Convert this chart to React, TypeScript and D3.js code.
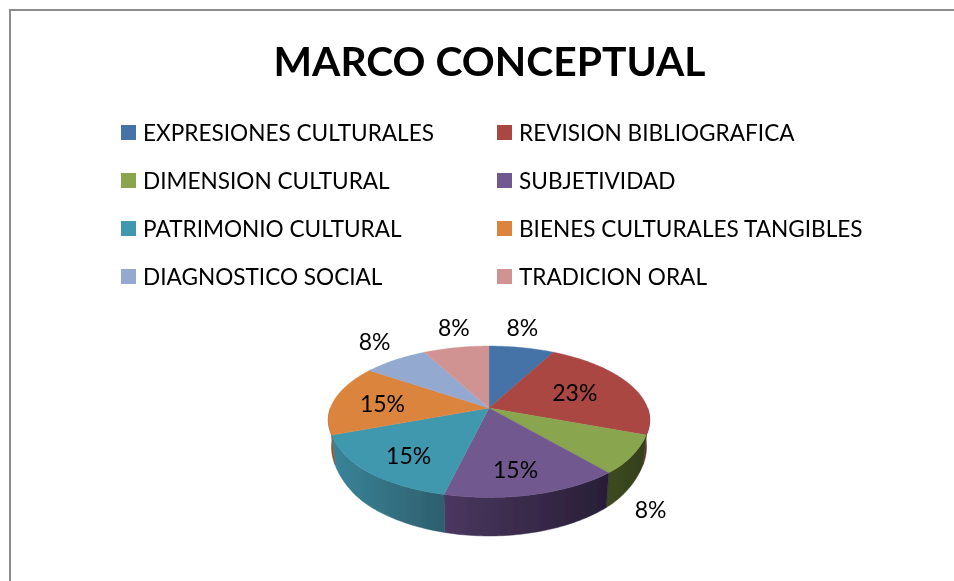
import React from "react";
import * as d3 from "d3";

const titleText = "MARCO CONCEPTUAL";
const categories = [
  "EXPRESIONES CULTURALES",
  "REVISION BIBLIOGRAFICA",
  "DIMENSION CULTURAL",
  "SUBJETIVIDAD",
  "PATRIMONIO CULTURAL",
  "BIENES CULTURALES TANGIBLES",
  "DIAGNOSTICO SOCIAL",
  "TRADICION ORAL",
];
const values = [1, 3, 1, 2, 2, 2, 1, 1];
const colors = ["#4572a7", "#aa4643", "#89a54e", "#71588f", "#4198af", "#db843d", "#93a9cf", "#d19392"];
const wallLeft = ["#2f4b6e", "#6e2e2c", "#3d4a20", "#4a3760", "#3a8499", "#8f5628", "#60708a", "#8a6160"];
const wallRight = ["#2f4b6e", "#5a2523", "#343f1c", "#281e36", "#2d5f6e", "#8f5628", "#60708a", "#8a6160"];
const labelAngles = [10.7, 69, 144.3, 169, 217.2, 274.7, 321.8, 348.7];
const labelRadii = [1.38, 0.6, 1.42, 0.77, 0.756, 0.68, 1.37, 1.38];

const W = 954;
const H = 581;
const cx = 489;
const cy = 408;
const R = 158.6;
const A = 72;
const K = 0.162;
const fmt = d3.format(".0%");
const total = d3.sum(values);

// perspective projection of the tilted disc
const project = (angle: number, r = 1): [number, number] => {
  const X = r * Math.sin(angle);
  const Y = r * Math.cos(angle);
  const w = 1 + K * Y;
  return [cx + (R * X) / w, cy - (A * Y) / w];
};
// the rim of the front half sags a little below the pure projection
const rim = (angle: number): [number, number] => {
  const [x, y] = project(angle);
  const t = Math.min(1, Math.max(0, (-Math.cos(angle) - 0.35) / 0.4));
  return [x, y + 3.5 * t * t * (3 - 2 * t)];
};
const rimBottom = (angle: number): [number, number] => {
  const w = 1 + K * Math.cos(angle);
  const [x, y] = rim(angle);
  return [cx + (x - cx) * 0.98, y + 25 + 70 * (1 / w - 1)];
};

const line = d3.line<[number, number]>();
const samples = (a0: number, a1: number) => {
  const n = Math.max(2, Math.ceil(Math.abs(a1 - a0) / 0.02));
  return d3.range(n + 1).map((i) => a0 + ((a1 - a0) * i) / n);
};

const arcs = d3.pie<number>().sort(null).startAngle(0).endAngle(2 * Math.PI)(values);

const topPath = (a0: number, a1: number) =>
  line([[cx, cy], ...samples(a0, a1).map(rim)])! + "Z";

const wallPath = (a0: number, a1: number) => {
  const lo = Math.max(a0, Math.PI / 2);
  const hi = Math.min(a1, (3 * Math.PI) / 2);
  if (hi <= lo) return null;
  const s = samples(lo, hi);
  return line([...s.map(rim), ...s.slice().reverse().map(rimBottom)])! + "Z";
};

const font = "Lato, Carlito, 'Open Sans', sans-serif";

export default function App() {
  return (
    <svg
      width={W}
      height={H}
      viewBox={`0 0 ${W} ${H}`}
      style={{ position: "absolute", left: 0, top: 0, display: "block", background: "#fff" }}
    >
      <defs>
        <filter id="soft" x="-5%" y="-5%" width="110%" height="110%">
          <feGaussianBlur stdDeviation="0.35" />
        </filter>
        {arcs.map((d, i) => {
          const x0 = project(Math.max(d.startAngle, Math.PI / 2))[0];
          const x1 = project(Math.min(d.endAngle, (3 * Math.PI) / 2))[0];
          return (
            <linearGradient key={i} id={`wall${i}`} gradientUnits="userSpaceOnUse" x1={x1} x2={x0} y1={0} y2={0}>
              <stop offset="0" stopColor={wallLeft[i]} />
              <stop offset="1" stopColor={wallRight[i]} />
            </linearGradient>
          );
        })}
      </defs>

      <path d={`M10,${H}V10H${W}`} fill="none" stroke="#8c8c8c" strokeWidth={2} />

      <g filter="url(#soft)">
        <text x={489.5} y={76} textAnchor="middle" fontFamily={font} fontWeight={700} fontSize={40.8} fill="#000">
          {titleText}
        </text>

        {categories.map((c, i) => {
          const col = i % 2;
          const row = Math.floor(i / 2);
          const x = col === 0 ? 121 : 497;
          const y = 125 + row * 48;
          return (
            <g key={c}>
              <rect x={x} y={y} width={15} height={15} fill={colors[i]} />
              <text x={x + 22} y={y + 16} fontFamily={font} fontSize={22.6} fill="#000">
                {c}
              </text>
            </g>
          );
        })}

        {arcs.map((d, i) => {
          const p = wallPath(d.startAngle, d.endAngle);
          return p ? <path key={i} d={p} fill={`url(#wall${i})`} stroke={`url(#wall${i})`} strokeWidth={0.5} /> : null;
        })}
        {arcs.map((d, i) => (
          <path key={i} d={topPath(d.startAngle, d.endAngle)} fill={colors[i]} stroke={colors[i]} strokeWidth={0.4} />
        ))}

        {arcs.map((d, i) => {
          const [x, y] = project((labelAngles[i] * Math.PI) / 180, labelRadii[i]);
          return (
            <text key={i} x={x} y={y} dy="0.35em" textAnchor="middle" fontFamily={font} fontSize={23} fill="#000">
              {fmt(d.value / total)}
            </text>
          );
        })}
      </g>
    </svg>
  );
}
